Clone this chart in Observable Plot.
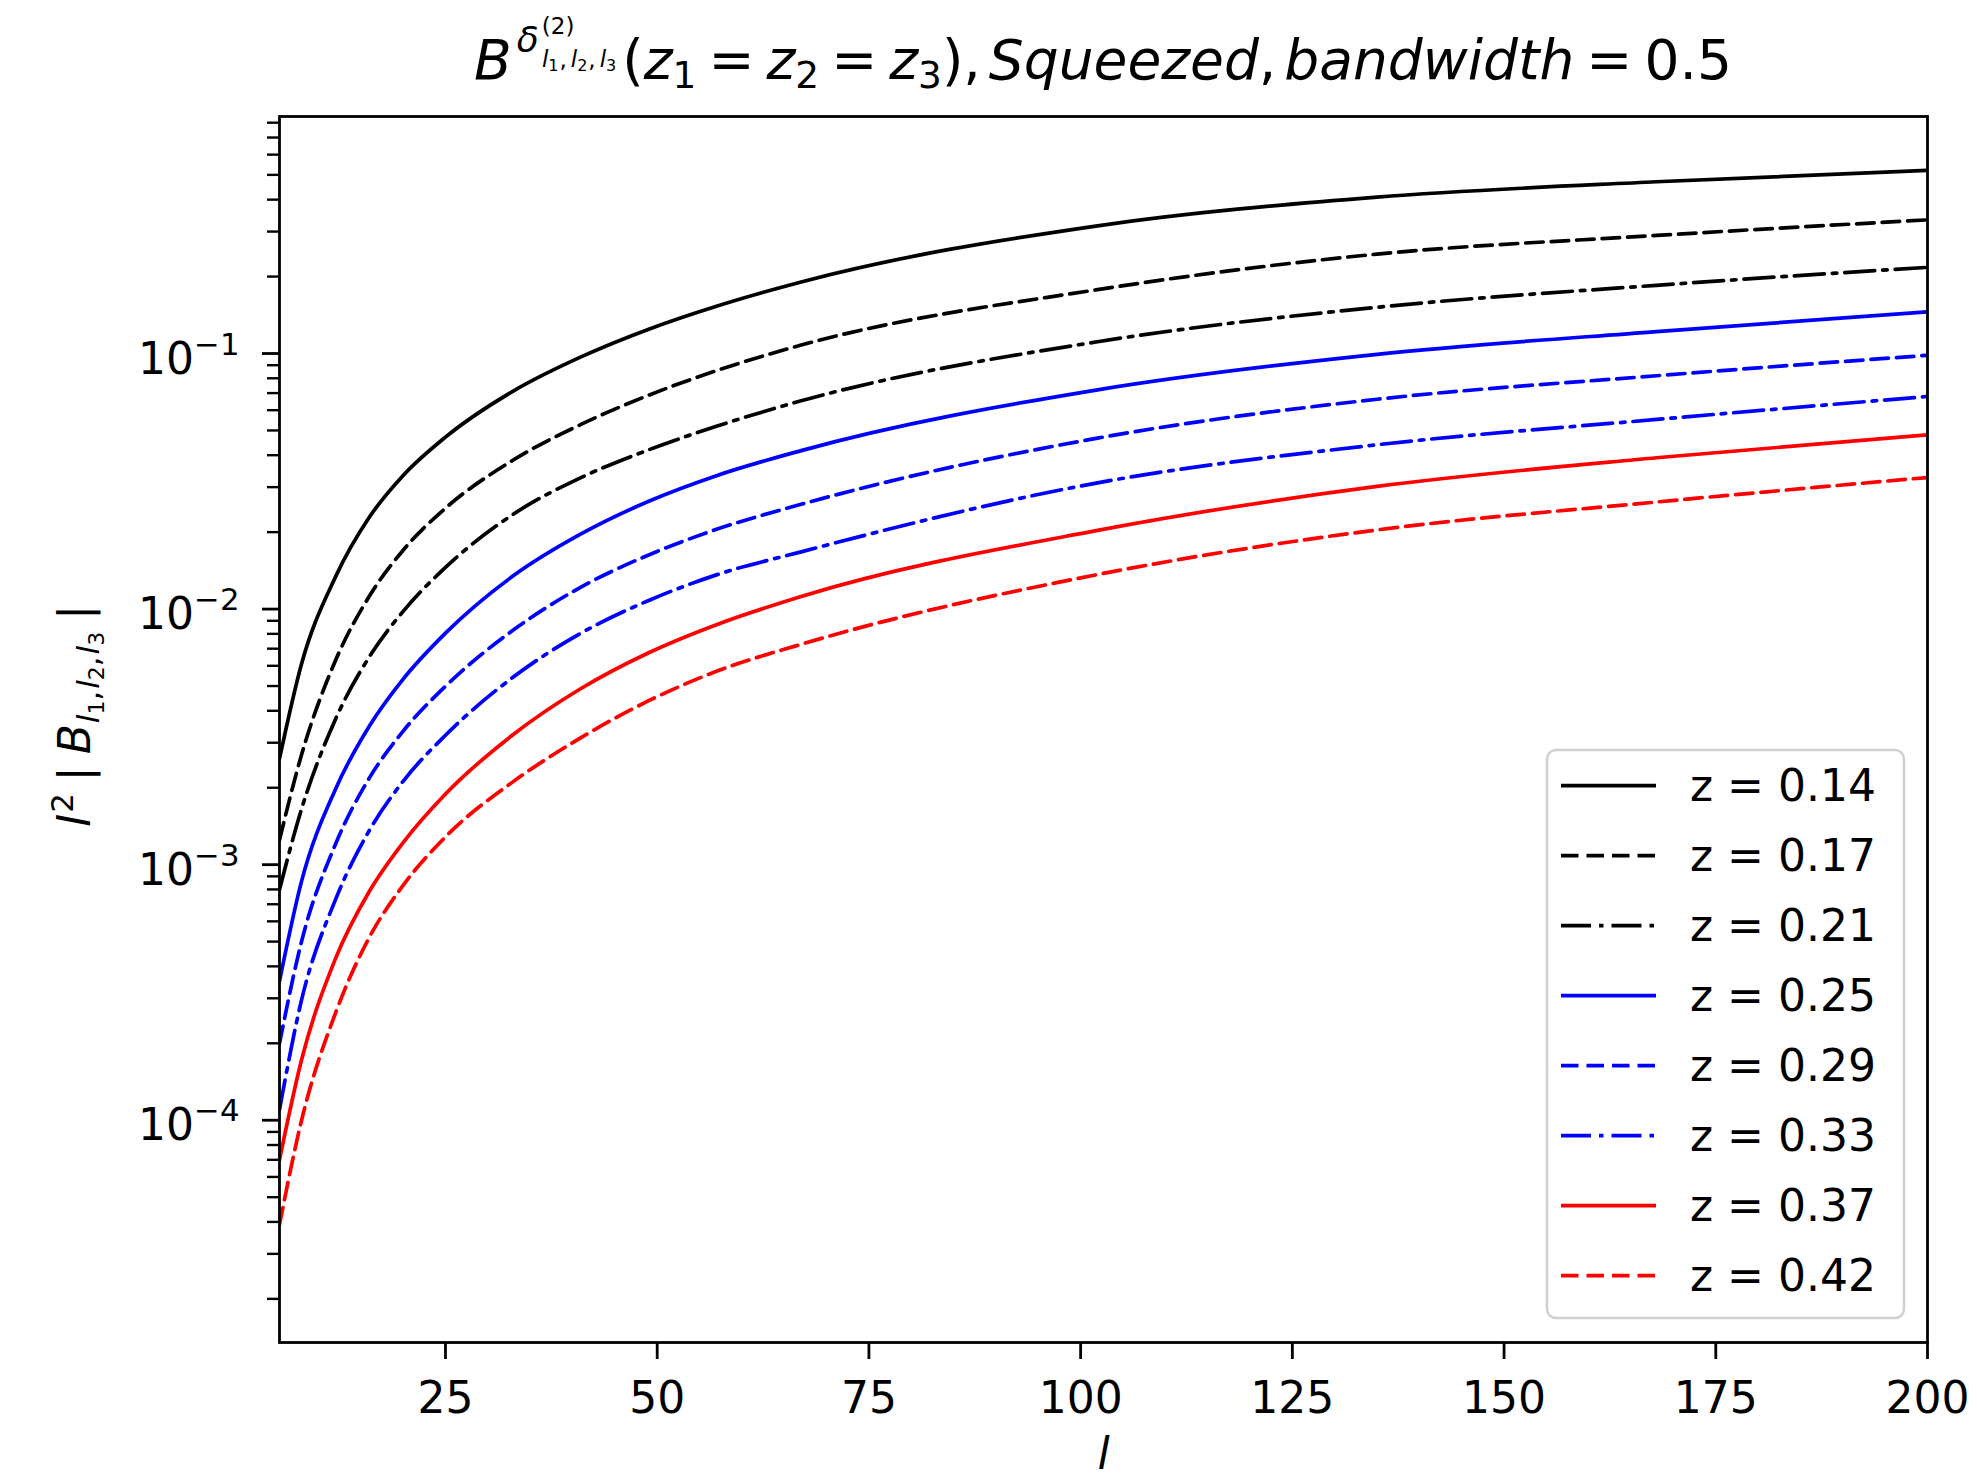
<!DOCTYPE html>
<html>
<head>
<meta charset="utf-8">
<script src="https://cdn.jsdelivr.net/npm/d3@7"></script>
<script src="https://cdn.jsdelivr.net/npm/@observablehq/plot@0.6"></script>
<style>
  html, body { margin: 0; padding: 0; background: #fff; }
  #wrap { position: relative; width: 1977px; height: 1484px; overflow: hidden; background: #fff; }
  #titlebox { display: block; }
  #chart svg { display: block; }
</style>
</head>
<body>
<div id="wrap">
  <svg id="titlebox" width="1977" height="100"></svg>
  <div id="chart"></div>
</div>
<script>
// ---- data ----
const ells = [5.4, 8, 12, 16, 20, 25, 33, 41, 49, 57, 67, 102, 135, 168, 200];

const z014 = [0.0026, 0.0061, 0.01334, 0.02286, 0.03334, 0.0471, 0.0713, 0.0970, 0.1245, 0.1531, 0.1905, 0.316, 0.409, 0.470, 0.521];
const z017 = [0.00125, 0.00269, 0.00628, 0.01122, 0.0170, 0.02483, 0.0383, 0.0528, 0.0687, 0.0857, 0.1079, 0.1778, 0.2449, 0.2897, 0.3334];
const z021 = [0.0008, 0.00165, 0.0037, 0.0065, 0.0098, 0.01456, 0.0235, 0.0327, 0.042, 0.0519, 0.0653, 0.1112, 0.1517, 0.1849, 0.2173];
const z025 = [0.00035, 0.00086, 0.00197, 0.00348, 0.00532, 0.00805, 0.01349, 0.01968, 0.02642, 0.03327, 0.0417, 0.0721, 0.0993, 0.1219, 0.1455];
const z029 = [0.0002, 0.0005, 0.0012, 0.00218, 0.00333, 0.00499, 0.00828, 0.01219, 0.01629, 0.02051, 0.0257, 0.04667, 0.06622, 0.08185, 0.0984];
const z033 = [0.00011, 0.000295, 0.000728, 0.00136, 0.00212, 0.00321, 0.00542, 0.00805, 0.01081, 0.01361, 0.01675, 0.03119, 0.04395, 0.05521, 0.06792];
const z037 = [0.00007, 0.000172, 0.000428, 0.000785, 0.00122, 0.00189, 0.00323, 0.00489, 0.00675, 0.00869, 0.0112, 0.02032, 0.0302, 0.0391, 0.0481];
const z042 = [0.000039, 0.0000998, 0.000262, 0.000519, 0.00083, 0.001285, 0.002113, 0.00314, 0.00438, 0.00571, 0.00728, 0.01365, 0.0204, 0.02624, 0.03273];

const seriesLabels = ["z = 0.14", "z = 0.17", "z = 0.21", "z = 0.25", "z = 0.29", "z = 0.33", "z = 0.37", "z = 0.42"];
const seriesValues = [z014, z017, z021, z025, z029, z033, z037, z042];
const seriesColors = ["#000000", "#000000", "#000000", "#0000ff", "#0000ff", "#0000ff", "#ff0000", "#ff0000"];
const seriesStyles = ["solid", "dashed", "dashdot", "solid", "dashed", "dashdot", "solid", "dashed"];

const xTicks = [25, 50, 75, 100, 125, 150, 175, 200];
const yMajor = [1e-4, 1e-3, 1e-2, 1e-1];
const yMajorExp = ["\u22124", "\u22123", "\u22122", "\u22121"];

// ---- styling ----
const dashes = { solid: null, dashed: "17.5,8", dashdot: "30,8,4.5,8" };
const LW = 3.7;
const FS = 44;

const yMinor = [];
for (const d of [1e-5, 1e-4, 1e-3, 1e-2, 1e-1]) for (let k = 2; k <= 9; k++) yMinor.push(k * d);

const tables = seriesValues.map((vals, s) => ells.map((l, i) => ({ l, v: vals[i], z: seriesLabels[s] })));

const plot = Plot.plot({
  width: 1977,
  height: 1384,
  marginTop: 16,
  marginBottom: 142,
  marginLeft: 279,
  marginRight: 50,
  style: { fontFamily: "DejaVu Sans", fontSize: FS + "px", color: "#000", background: "#fff", overflow: "visible" },
  x: { domain: [5.4, 200], label: null },
  y: { type: "log", domain: [1.35e-5, 0.846], label: null },
  marks: [
    ...tables.map((t, s) => Plot.line(t, {
      x: "l", y: "v",
      stroke: seriesColors[s],
      strokeWidth: LW,
      strokeDasharray: dashes[seriesStyles[s]] || undefined,
      curve: "monotone-x",
      clip: true
    })),
    Plot.axisX({ ticks: xTicks, tickSize: 17, tickPadding: 22, strokeWidth: 2.8, label: null, fontSize: FS }),
    Plot.axisY({ ticks: yMinor.filter(v => v >= 1.35e-5 && v <= 0.846), tickSize: 12, strokeWidth: 2.4, tickFormat: () => "", label: null }),
    Plot.axisY({ ticks: yMajor, tickSize: 17, tickPadding: 23, strokeWidth: 2.8, tickFormat: d => "10" + yMajorExp[yMajor.indexOf(d)], label: null, fontSize: FS }),
    Plot.frame({ stroke: "#000", strokeWidth: 2.8 }),
    Plot.text(["l"], { text: d => d, frameAnchor: "bottom", dy: 126, fontStyle: "italic", fontSize: FS })
  ]
});
document.getElementById("chart").appendChild(plot);

const svg = d3.select(plot);

// rewrite y tick labels as 10 with a real superscript
svg.selectAll('g[aria-label="y-axis tick label"] text').each(function () {
  const t = this.textContent;
  if (!t.startsWith("10")) return;
  const exp = t.slice(2);
  const sel = d3.select(this);
  sel.text(null);
  sel.append("tspan").attr("dy", 6).text("10");
  sel.append("tspan").attr("dy", -19).attr("font-size", FS * 0.7).text(exp);
});

// helper: add tspans with absolute baseline offsets
function richText(textSel) {
  let cur = 0;
  return function add(str, o = {}) {
    const off = o.off || 0;
    const ts = textSel.append("tspan").attr("dy", off - cur).text(str);
    cur = off;
    if (o.size) ts.attr("font-size", o.size);
    if (o.italic) ts.attr("font-style", "italic");
    if (o.dx) ts.attr("dx", o.dx);
    return ts;
  };
}

// y-axis label
const yl = svg.append("text")
  .attr("transform", "translate(90,616) rotate(-90)")
  .attr("text-anchor", "middle")
  .attr("font-family", "DejaVu Sans")
  .attr("font-size", FS)
  .attr("fill", "#000")
  .style("white-space", "pre");
{
  const add = richText(yl);
  add("l", { italic: true });
  add("2", { size: FS * 0.7, off: -17, dx: 2 });
  add("|", { off: 0, dx: 12 });
  add("B", { italic: true, dx: 12 });
  add("l", { italic: true, size: FS * 0.7, off: 9, dx: 1 });
  add("1", { size: FS * 0.5, off: 14 });
  add(",", { size: FS * 0.7, off: 9 });
  add("l", { italic: true, size: FS * 0.7, off: 9, dx: 2 });
  add("2", { size: FS * 0.5, off: 14 });
  add(",", { size: FS * 0.7, off: 9 });
  add("l", { italic: true, size: FS * 0.7, off: 9, dx: 2 });
  add("3", { size: FS * 0.5, off: 14 });
  add("|", { off: 0, dx: 12 });
}

// legend
const lg = svg.append("g").attr("font-family", "DejaVu Sans").attr("font-size", FS).attr("text-anchor", "start");
lg.append("rect").attr("x", 1547).attr("y", 650).attr("width", 357).attr("height", 568)
  .attr("rx", 9).attr("fill", "#fff").attr("fill-opacity", 0.85).attr("stroke", "#d0d0d0").attr("stroke-width", 2.5);
seriesLabels.forEach((lab, i) => {
  const cy = 685.6 + i * 70;
  lg.append("line").attr("x1", 1561).attr("x2", 1656).attr("y1", cy).attr("y2", cy)
    .attr("stroke", seriesColors[i]).attr("stroke-width", LW)
    .attr("stroke-dasharray", dashes[seriesStyles[i]]);
  lg.append("text").attr("x", 1690).attr("y", cy).attr("dy", "0.36em").attr("text-anchor", "start")
    .attr("fill", "#000").style("white-space", "pre").text(lab);
});

// title
const T = 55;
const tt = d3.select("#titlebox").append("text")
  .attr("x", 1103).attr("y", 79)
  .attr("text-anchor", "middle")
  .attr("font-family", "DejaVu Sans")
  .attr("font-size", T)
  .attr("fill", "#000")
  .style("white-space", "pre");
{
  const add = richText(tt);
  const S = 23, D = 16;
  add("B", { italic: true });
  add("δ", { italic: true, size: 36, off: -27, dx: 5 });
  add("(2)", { size: S, off: -45, dx: 3 });
  const w2 = S * (0.39 + 0.636 + 0.39);
  add("l", { italic: true, size: S, off: -12, dx: -w2 });
  add("1", { size: D, off: -8 });
  add(",", { size: S, off: -12, dx: 1 });
  add("l", { italic: true, size: S, off: -12, dx: 4 });
  add("2", { size: D, off: -8 });
  add(",", { size: S, off: -12, dx: 1 });
  add("l", { italic: true, size: S, off: -12, dx: 4 });
  add("3", { size: D, off: -8 });
  add("(", { off: 0, dx: 6 });
  const zs = ["1", "2", "3"];
  zs.forEach((d, i) => {
    add("z", { italic: true, off: 0, dx: i === 0 ? 0 : 12 });
    add(d, { size: T * 0.68, off: 9 });
    if (i < 2) add("=", { off: 0, dx: 12 });
  });
  add("),", { off: 0 });
  add("Squeezed", { italic: true, off: 0, dx: 8 });
  add(",", { off: 0 });
  add("bandwidth", { italic: true, off: 0, dx: 8 });
  add("=", { off: 0, dx: 12 });
  add("0.5", { off: 0, dx: 12 });
}
</script>
</body>
</html>
